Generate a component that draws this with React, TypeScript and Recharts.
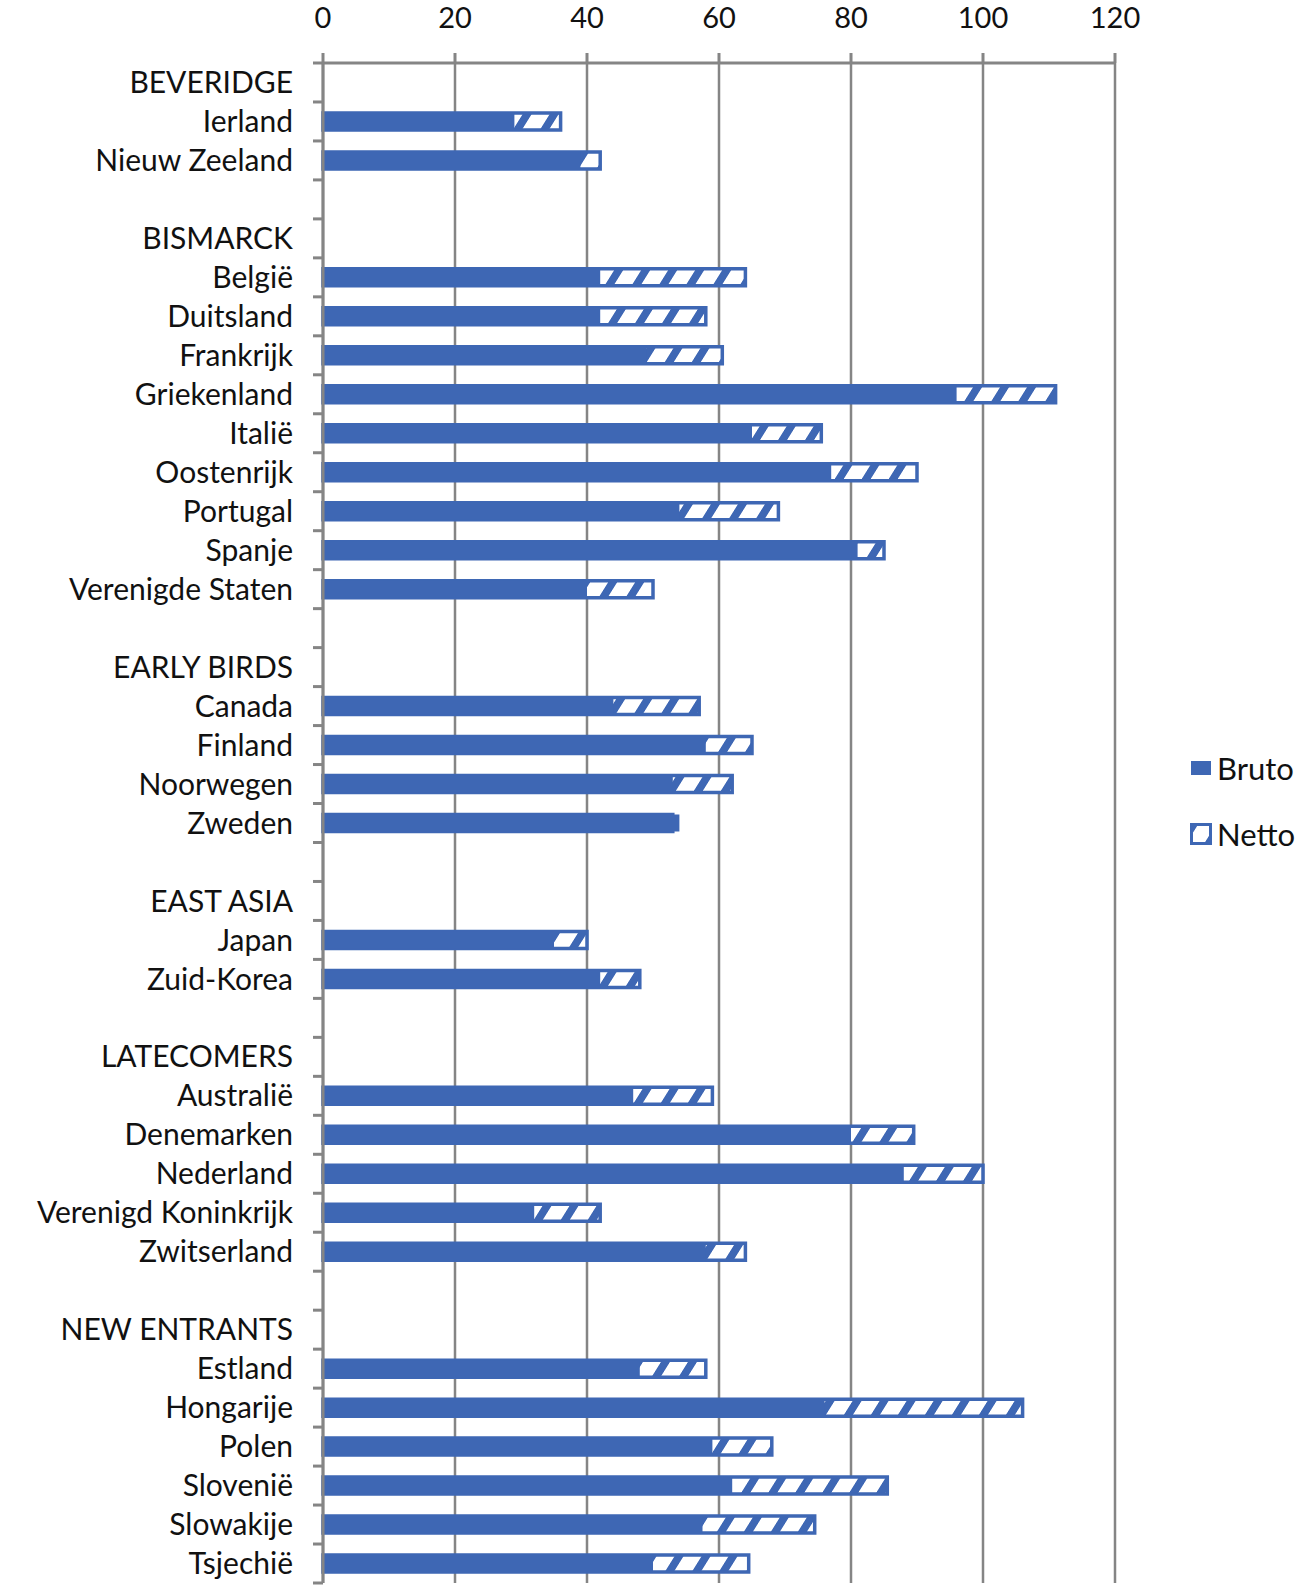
import React from "react"
import { BarChart, Bar, XAxis, YAxis, CartesianGrid, Legend } from "recharts"

const FONT = "Lato, 'Open Sans', sans-serif"
const BLUE = "#3e67b4"
const GRAY = "#858585"
const LABEL_GAP = 30

// rows of the chart, group headers and empty spacer rows included
const categories = [
  "BEVERIDGE", "Ierland", "Nieuw Zeeland", "",
  "BISMARCK", "België", "Duitsland", "Frankrijk", "Griekenland", "Italië", "Oostenrijk", "Portugal", "Spanje", "Verenigde Staten", "",
  "EARLY BIRDS", "Canada", "Finland", "Noorwegen", "Zweden", "",
  "EAST ASIA", "Japan", "Zuid-Korea", "",
  "LATECOMERS", "Australië", "Denemarken", "Nederland", "Verenigd Koninkrijk", "Zwitserland", "",
  "NEW ENTRANTS", "Estland", "Hongarije", "Polen", "Slovenië", "Slowakije", "Tsjechië",
]

const bruto = [
  null, 29, 39, null,
  null, 42, 42, 49, 96, 65, 77, 54, 81, 40, null,
  null, 44, 58, 53, 54, null,
  null, 35, 42, null,
  null, 47, 80, 88, 32, 58, null,
  null, 48, 76, 59, 62, 57.5, 50,
]

const netto = [
  null, 36, 42, null,
  null, 64, 58, 60.5, 111, 75.5, 90, 69, 85, 50, null,
  null, 57, 65, 62, 53, null,
  null, 40, 48, null,
  null, 59, 89.5, 100, 42, 64, null,
  null, 58, 106, 68, 85.5, 74.5, 64.5,
]

const xTicks = [0, 20, 40, 60, 80, 100, 120]

const legendItems = [
  { name: "Bruto", hatched: false },
  { name: "Netto", hatched: true },
]

const data = categories.map((name, i) => ({
  key: String(i),
  name,
  bruto: bruto[i],
  netto: netto[i],
}))

// label plus Excel-style tick marks on the category boundaries
const CategoryTick = (props: any) => {
  const { x, y, payload, index } = props
  const half = typeof payload?.offset === "number" && payload.offset > 0 ? payload.offset : 19.5
  const axisX = x + LABEL_GAP
  const isLast = index === categories.length - 1
  return (
    <g>
      <line x1={axisX - 10} x2={axisX} y1={y - half} y2={y - half} stroke={GRAY} strokeWidth={3} />
      {isLast && <line x1={axisX - 10} x2={axisX} y1={y + half} y2={y + half} stroke={GRAY} strokeWidth={3} />}
      <text x={x} y={y} dy="0.355em" textAnchor="end" fill="#111" fontSize={30} fontFamily={FONT}>
        {categories[Number(payload.value)]}
      </text>
    </g>
  )
}

const LegendContent = () => (
  <div style={{ fontFamily: FONT, fontSize: 31, color: "#111" }}>
    {legendItems.map((item) => (
      <div key={item.name} style={{ display: "flex", alignItems: "center", height: 66 }}>
        <svg width={22} height={22} style={{ marginRight: 5 }}>
          {item.hatched ? (
            <rect x={1.5} y={1.5} width={19} height={19} fill="url(#netto-hatch)" stroke={BLUE} strokeWidth={3} />
          ) : (
            <rect x={1} y={4} width={20} height={14} fill={BLUE} />
          )}
        </svg>
        <span>{item.name}</span>
      </div>
    ))}
  </div>
)

export default function App() {
  return (
    <div style={{ position: "absolute", left: 0, top: 0, width: 1299, height: 1589, background: "#fff" }}>
      <BarChart
        width={1299}
        height={1589}
        data={data}
        layout="vertical"
        margin={{ top: 0, right: 184, bottom: 6, left: 0 }}
        barSize={17}
        barGap={-17}
      >
        <defs>
          <pattern id="netto-hatch" patternUnits="userSpaceOnUse" width={27} height={40} patternTransform="skewX(-32)">
            <rect x={0} y={0} width={27} height={40} fill="#fff" />
            <rect x={0} y={0} width={9} height={40} fill={BLUE} />
          </pattern>
        </defs>
        <CartesianGrid horizontal={false} stroke={GRAY} strokeWidth={2.5} />
        <XAxis
          type="number"
          orientation="top"
          domain={[0, 120]}
          ticks={xTicks}
          height={63}
          tickSize={10}
          tickMargin={25}
          axisLine={{ stroke: GRAY, strokeWidth: 3 }}
          tickLine={{ stroke: GRAY, strokeWidth: 3 }}
          tick={{ fill: "#111", fontSize: 29, fontFamily: FONT }}
        />
        <YAxis
          yAxisId="cat"
          type="category"
          dataKey="key"
          width={323}
          interval={0}
          tickLine={false}
          tickSize={0}
          tickMargin={LABEL_GAP}
          axisLine={{ stroke: GRAY, strokeWidth: 3 }}
          tick={<CategoryTick />}
        />
        <Bar
          yAxisId="cat"
          dataKey="netto"
          name="Netto"
          fill="url(#netto-hatch)"
          stroke={BLUE}
          strokeWidth={3.5}
          isAnimationActive={false}
        />
        <Bar yAxisId="cat" dataKey="bruto" name="Bruto" fill={BLUE} isAnimationActive={false} />
        <Legend
          layout="vertical"
          align="center"
          verticalAlign="middle"
          wrapperStyle={{ left: 1190, top: 735, width: 109 }}
          content={<LegendContent />}
        />
      </BarChart>
    </div>
  )
}
